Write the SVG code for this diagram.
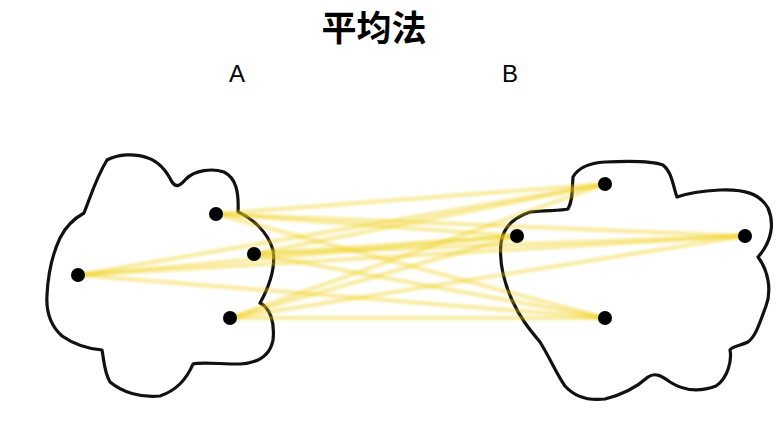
<svg xmlns="http://www.w3.org/2000/svg" width="779" height="437" viewBox="0 0 779 437">
<defs>
<filter id="soft" x="-5%" y="-20%" width="110%" height="140%"><feGaussianBlur stdDeviation="1"/></filter>
</defs>
<style>
.cloud{fill:#fff;stroke:#111;stroke-width:3.2;stroke-linejoin:round}
.pt{fill:#000}
.lk{stroke:#f0d018;stroke-width:4.5;stroke-opacity:0.38;stroke-linecap:round;fill:none}
.lbl{font-family:"Liberation Sans","Noto Sans",sans-serif;font-size:24px;fill:#000;text-anchor:middle}
.title{font-family:"Noto Sans CJK SC",sans-serif;font-size:35px;font-weight:bold;fill:#000;text-anchor:middle}
</style>
<rect width="779" height="437" fill="#fff"/>
<text class="title" x="374" y="41">平均法</text>
<text class="lbl" x="237" y="82">A</text>
<text class="lbl" x="510" y="82">B</text>
<g id="clusterA">
<path class="cloud" d="M107,160 C118,154 135,153 148,158 C160,162 167,172 172,182 C176,188 180,186 186,179 C195,170 212,168 224,172 C236,178 239,192 238,212 C252,218 268,232 273,250 C276,268 270,285 260,303 C270,308 275,322 273,340 C270,356 258,363 240,364 C220,364 200,362 193,364 C188,376 178,390 160,396 C140,398 122,392 110,382 C104,372 104,360 102,350 C90,349 75,345 62,336 C50,325 46,310 47,295 C48,275 52,255 60,238 C66,226 75,218 84,213 C90,198 96,178 107,160 Z"/>
</g>
<g id="clusterB">
<path class="cloud" d="M573,177 C578,168 590,163 605,162 C625,161 650,160 663,165 C672,172 673,186 677,197 C685,194 700,191 720,190 C745,189 760,194 768,208 C774,222 773,240 758,257 C768,270 772,290 766,306 C760,322 756,336 748,342 C740,346 732,346 730,350 C732,360 728,378 716,386 C700,392 684,391 670,382 C662,376 655,372 648,377 C638,386 625,394 605,399 C588,401 574,396 565,386 C557,375 550,358 540,342 C530,330 520,318 512,300 C503,280 499,262 501,243 C503,228 512,218 530,212 C545,210 560,211 568,209 C573,200 572,190 573,177 Z"/>
</g>
<g id="connectors" filter="url(#soft)">
<line class="lk" x1="216" y1="214" x2="605" y2="184"/>
<line class="lk" x1="216" y1="214" x2="517" y2="236"/>
<line class="lk" x1="216" y1="214" x2="745" y2="236"/>
<line class="lk" x1="216" y1="214" x2="605" y2="318"/>
<line class="lk" x1="254" y1="254" x2="605" y2="184"/>
<line class="lk" x1="254" y1="254" x2="517" y2="236"/>
<line class="lk" x1="254" y1="254" x2="745" y2="236"/>
<line class="lk" x1="254" y1="254" x2="605" y2="318"/>
<line class="lk" x1="78" y1="275" x2="605" y2="184"/>
<line class="lk" x1="78" y1="275" x2="517" y2="236"/>
<line class="lk" x1="78" y1="275" x2="745" y2="236"/>
<line class="lk" x1="78" y1="275" x2="605" y2="318"/>
<line class="lk" x1="230" y1="318" x2="605" y2="184"/>
<line class="lk" x1="230" y1="318" x2="517" y2="236"/>
<line class="lk" x1="230" y1="318" x2="745" y2="236"/>
<line class="lk" x1="230" y1="318" x2="605" y2="318"/>
</g>
<g id="pointsA">
<circle class="pt" cx="216" cy="214" r="7"/>
<circle class="pt" cx="254" cy="254" r="7"/>
<circle class="pt" cx="78" cy="275" r="7"/>
<circle class="pt" cx="230" cy="318" r="7"/>
</g>
<g id="pointsB">
<circle class="pt" cx="605" cy="184" r="7"/>
<circle class="pt" cx="517" cy="236" r="7"/>
<circle class="pt" cx="745" cy="236" r="7"/>
<circle class="pt" cx="605" cy="318" r="7"/>
</g>
</svg>
